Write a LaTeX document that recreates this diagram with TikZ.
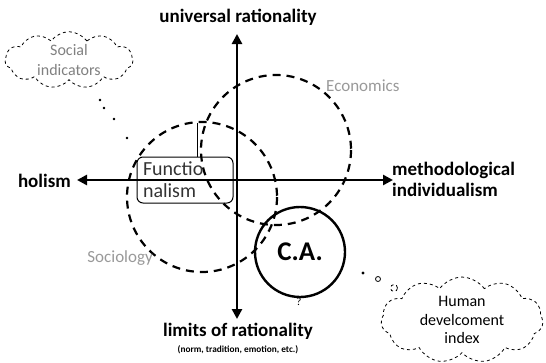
\documentclass[tikz,border=0pt]{standalone}
\usepackage{fontspec}
\setmainfont{Carlito}
\usetikzlibrary{shapes.symbols,arrows.meta}
\begin{document}
\begin{tikzpicture}[x=1pt,y=-1pt,
  axis/.style={line width=2.6pt,{Triangle[length=10pt,width=10pt]}-{Triangle[length=10pt,width=10pt]}},
  axlabel/.style={font=\bfseries\fontsize{19}{22}\selectfont,inner sep=0pt},
  dcirc/.style={draw,line width=2.2pt,dash pattern=on 8pt off 6pt},
  faint/.style={text=black!40,font=\fontsize{17}{19}\selectfont,inner sep=0pt},
  thought/.style={draw,dashed,line width=0.8pt,cloud,cloud puffs=11,cloud puff arc=110,aspect=2.2,align=center,inner sep=0pt},
  bub/.style={draw,line width=0.8pt,circle,inner sep=0pt}]
\useasboundingbox (0,0) rectangle (546,362);
% axes
\coordinate (T) at (237,34);
\coordinate (B) at (237,319);
\coordinate (L) at (77,180);
\coordinate (R) at (393,180);
\draw[axis] (B) -- (T);
\draw[axis] (L) -- (R);
% labels
\node[axlabel] (ur) at (238,17) {universal rationality};
\node[axlabel] (lr) at (238,331) {limits of rationality};
\node[inner sep=0pt,font=\bfseries\fontsize{9.3}{11}\selectfont] (nt) at (238,350) {(norm, tradition, emotion, etc.)};
\node[axlabel,anchor=east] (ho) at (71,181) {holism};
\node[axlabel,anchor=west,align=left] (mi) at (392,179) {methodological\\[-1pt]individualism};
% circles
\draw[dcirc] (276,150) circle[radius=75];
\draw[dcirc] (202,197) circle[radius=75];
\node[draw,circle,line width=2.4pt,minimum size=90pt,inner sep=0pt,font=\bfseries\fontsize{27}{30}\selectfont] (ca) at (300,252) {C.A.};
\node[faint,anchor=west] (eco) at (326,86) {Economics};
\node[faint,anchor=east] (soc) at (153,258) {Sociology};
\node[font=\fontsize{11}{12}\selectfont] (q) at (299,302) {?};
% functionalism box
\node[draw,rounded corners=6pt,line width=1pt,minimum width=96pt,minimum height=46pt,text width=84pt,align=left,inner sep=4pt,font=\fontsize{20}{22}\selectfont,text=black!80] (fu) at (185,180) {Functio\\nalism};
\coordinate (fp) at (197,123);
\draw[line width=1pt] (fu.north -| fp) -- (fp);
% clouds
\node[thought,minimum width=128pt,minimum height=56pt,text=black!50,font=\fontsize{16}{20}\selectfont] (si) at (69,60) {Social\\indicators};
\node[bub,minimum size=1.5pt,fill] (s1) at (100,100) {};
\node[bub,minimum size=1.5pt,fill] (s2) at (104,108) {};
\node[bub,minimum size=1.5pt,fill] (s3) at (114,119) {};
\node[bub,minimum size=1.5pt,fill] (s4) at (127,138) {};
\node[thought,minimum width=162pt,minimum height=82pt,font=\fontsize{16}{18.5}\selectfont] (hdi) at (462,320) {Human\\develcoment\\index};
\node[bub,minimum size=2pt,fill] (h1) at (363,273) {};
\node[bub,minimum size=5pt] (h2) at (378,279) {};
\node[bub,minimum size=7pt,dashed] (h3) at (394,288) {};
\end{tikzpicture}
\end{document}
